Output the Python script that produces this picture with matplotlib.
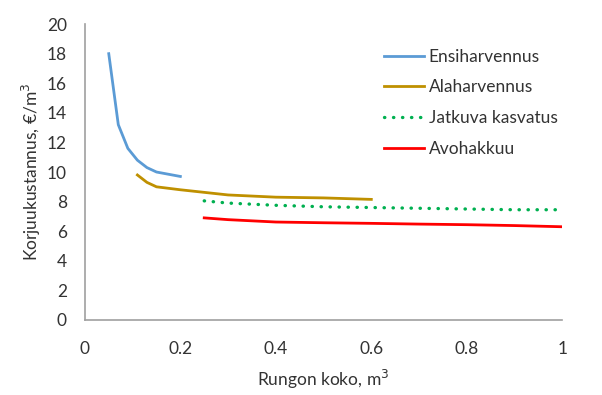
import matplotlib.pyplot as plt

plt.rcParams['font.family'] = ['Lato', 'DejaVu Sans']

# Ensiharvennus
x_ensi = [0.05, 0.07, 0.09, 0.11, 0.13, 0.15, 0.2]
y_ensi = [18.0, 13.2, 11.6, 10.8, 10.3, 10.0, 9.7]
# Alaharvennus
x_ala = [0.11, 0.13, 0.15, 0.2, 0.3, 0.4, 0.5, 0.6]
y_ala = [9.8, 9.3, 9.0, 8.8, 8.45, 8.3, 8.25, 8.15]
# Jatkuva kasvatus
x_jat = [0.25, 0.3, 0.4, 0.5, 0.6, 0.7, 0.8, 0.9, 1.0]
y_jat = [8.05, 7.9, 7.75, 7.65, 7.6, 7.55, 7.5, 7.45, 7.45]
# Avohakkuu
x_avo = [0.25, 0.3, 0.4, 0.5, 0.6, 0.7, 0.8, 0.9, 1.0]
y_avo = [6.9, 6.78, 6.62, 6.57, 6.53, 6.48, 6.44, 6.38, 6.3]

labels = ['Ensiharvennus', 'Alaharvennus', 'Jatkuva kasvatus', 'Avohakkuu']
txt = '#333333'

fig = plt.figure(figsize=(6.02, 3.95), dpi=100)
ax = fig.add_axes([0.141, 0.19, 0.793, 0.749])

ax.plot(x_ensi, y_ensi, color='#5B9BD5', lw=2, label=labels[0])
ax.plot(x_ala, y_ala, color='#BF9000', lw=2, label=labels[1])
ax.plot(x_jat, y_jat, color='#00B050', lw=2.4, linestyle=(0, (0.1, 2.6)),
        dash_capstyle='round', label=labels[2])
ax.plot(x_avo, y_avo, color='#FF0000', lw=2, label=labels[3])

ax.set_xlim(0, 1)
ax.set_ylim(0, 20)
ax.set_xticks([0, 0.2, 0.4, 0.6, 0.8, 1])
ax.set_xticklabels(['0', '0.2', '0.4', '0.6', '0.8', '1'])
ax.set_yticks(range(0, 21, 2))
ax.tick_params(length=0, labelsize=12.5, colors=txt)
ax.tick_params(axis='x', pad=15)
ax.tick_params(axis='y', pad=13)
for s in ['top', 'right']:
    ax.spines[s].set_visible(False)
for s in ['left', 'bottom']:
    ax.spines[s].set_color('#A0A0A0')
    ax.spines[s].set_linewidth(1.2)

ax.set_xlabel('Rungon koko, m$^3$', fontsize=12.5, color=txt, labelpad=8)
ax.set_ylabel('Korjuukustannus, €/m$^3$', fontsize=12.5, color=txt, labelpad=3)

leg = ax.legend(loc='upper left', bbox_to_anchor=(0.593, 0.97), frameon=False,
                fontsize=12.5, handlelength=2.3, labelspacing=0.85, handletextpad=0.3)
for t in leg.get_texts():
    t.set_color(txt)

fig.savefig('out.png')
